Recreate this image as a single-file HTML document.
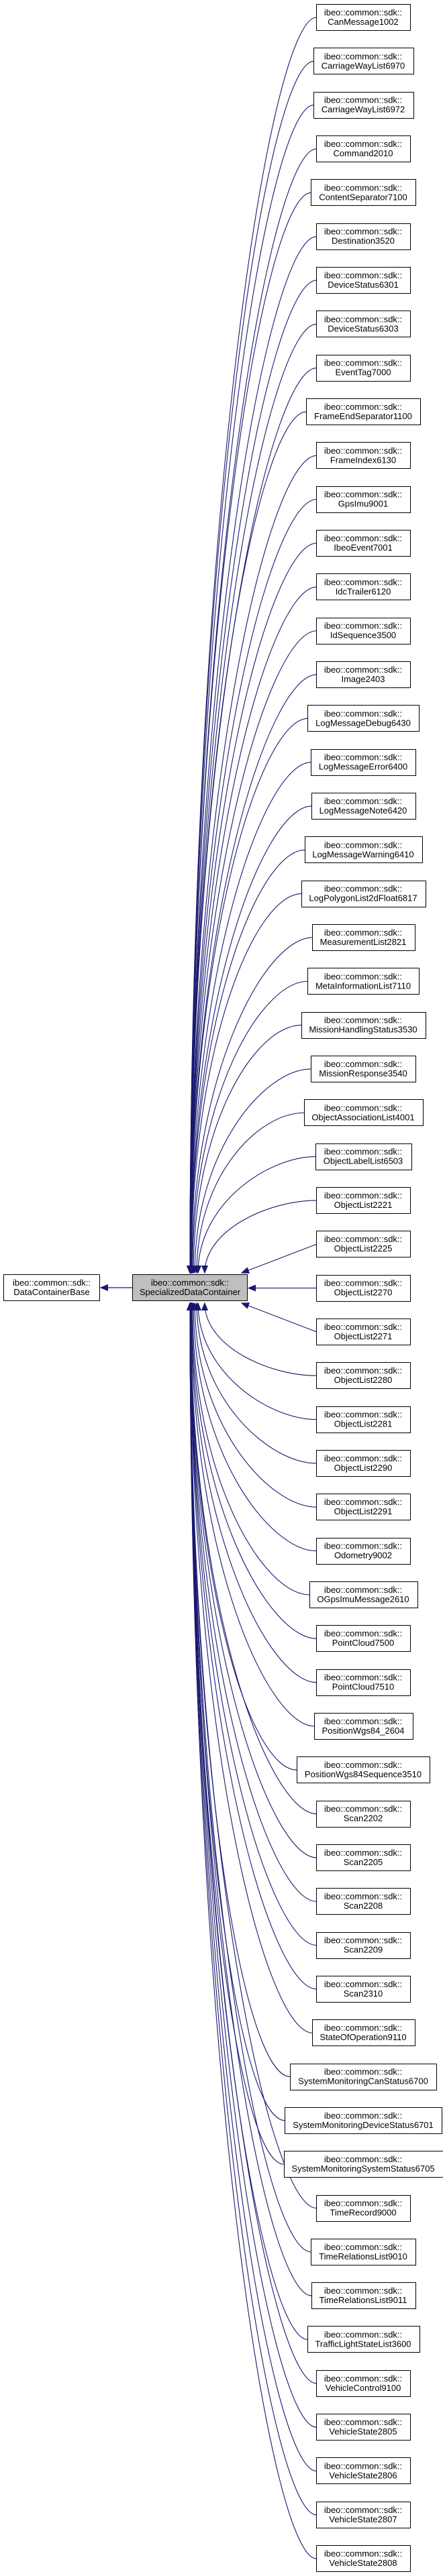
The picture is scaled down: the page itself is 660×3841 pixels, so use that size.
<!DOCTYPE html>
<html><head><meta charset="utf-8"><style>
html,body{margin:0;padding:0;background:#fff;width:660px;height:3841px;overflow:hidden}
svg text{font-family:"Liberation Sans",Arial,sans-serif;font-size:13px;fill:#000}
</style></head><body>
<svg id="g" width="660" height="3841" xmlns="http://www.w3.org/2000/svg">
<defs><marker id="ah" markerWidth="12" markerHeight="10" refX="11" refY="5" orient="auto" markerUnits="userSpaceOnUse"><path d="M0,0.5 L11,5 L0,9.5 z" fill="#191970" stroke="#191970"/></marker></defs>
<g id="edges"></g><g id="nodes">
<rect x="5.5" y="1900.5" width="143" height="39" fill="#fff" stroke="#000"/>
<text x="77" y="1917" text-anchor="middle">ibeo::common::sdk::</text>
<text x="77" y="1931" text-anchor="middle">DataContainerBase</text>
<rect x="197.5" y="1900.5" width="171" height="39" fill="#bfbfbf" stroke="#000"/>
<text x="283" y="1917" text-anchor="middle">ibeo::common::sdk::</text>
<text x="283" y="1931" text-anchor="middle">SpecializedDataContainer</text>
<path d="M197,1920 L150,1920" stroke="#191970" stroke-width="1.2" fill="none" marker-end="url(#ah)"/>
</g>
</svg>
<script>
var names=["CanMessage1002","CarriageWayList6970","CarriageWayList6972","Command2010","ContentSeparator7100","Destination3520","DeviceStatus6301","DeviceStatus6303","EventTag7000","FrameEndSeparator1100","FrameIndex6130","GpsImu9001","IbeoEvent7001","IdcTrailer6120","IdSequence3500","Image2403","LogMessageDebug6430","LogMessageError6400","LogMessageNote6420","LogMessageWarning6410","LogPolygonList2dFloat6817","MeasurementList2821","MetaInformationList7110","MissionHandlingStatus3530","MissionResponse3540","ObjectAssociationList4001","ObjectLabelList6503","ObjectList2221","ObjectList2225","ObjectList2270","ObjectList2271","ObjectList2280","ObjectList2281","ObjectList2290","ObjectList2291","Odometry9002","OGpsImuMessage2610","PointCloud7500","PointCloud7510","PositionWgs84_2604","PositionWgs84Sequence3510","Scan2202","Scan2205","Scan2208","Scan2209","Scan2310","StateOfOperation9110","SystemMonitoringCanStatus6700","SystemMonitoringDeviceStatus6701","SystemMonitoringSystemStatus6705","TimeRecord9000","TimeRelationsList9010","TimeRelationsList9011","TrafficLightStateList3600","VehicleControl9100","VehicleState2805","VehicleState2806","VehicleState2807","VehicleState2808"];
var NS="http://www.w3.org/2000/svg",ng=document.getElementById("nodes"),eg=document.getElementById("edges");
function el(t,a,p){var e=document.createElementNS(NS,t);for(var k in a)e.setAttribute(k,a[k]);p.appendChild(e);return e;}
var cx=541,pitch=65.33;
names.forEach(function(n,i){
 var top=6+i*pitch;
 var t1=el("text",{x:cx,y:top+17,"text-anchor":"middle"},ng);t1.textContent="ibeo::common::sdk::";
 var t2=el("text",{x:cx,y:top+31,"text-anchor":"middle"},ng);t2.textContent=n;
 var w=Math.max(t1.getComputedTextLength(),t2.getComputedTextLength())+24;
 w=Math.round(w);
 var lx=Math.round(cx-w/2)+0.5;
 var r=el("rect",{x:lx,y:Math.round(top)+0.5,width:w,height:39,fill:"#fff",stroke:"#000"},ng);
 ng.insertBefore(r,t1);
 var ym=top+20,k=Math.abs(i-29),d;
 if(k==0){d="M"+lx+","+ym+" L370,"+ym;}
 else{
  var s=i<29?-1:1;
  var ex;
  if(k==1)ex=360;else if(k==2)ex=305;else if(k==3)ex=295;else ex=283+10*Math.exp(-(k-4)/3);
  var ey=s<0?1898:1943;
  var c1x=lx-70,c2y=ey+(ym-ey)*0.6;
  if(k==1){d="M"+lx+","+ym+" L"+ex+","+ey;}
  else d="M"+lx+","+ym+" C"+c1x+","+ym+" "+ex+","+c2y+" "+ex+","+ey;
 }
 el("path",{d:d,stroke:"#191970","stroke-width":"1.1",fill:"none","marker-end":"url(#ah)"},eg);
});
</script>
</body></html>
